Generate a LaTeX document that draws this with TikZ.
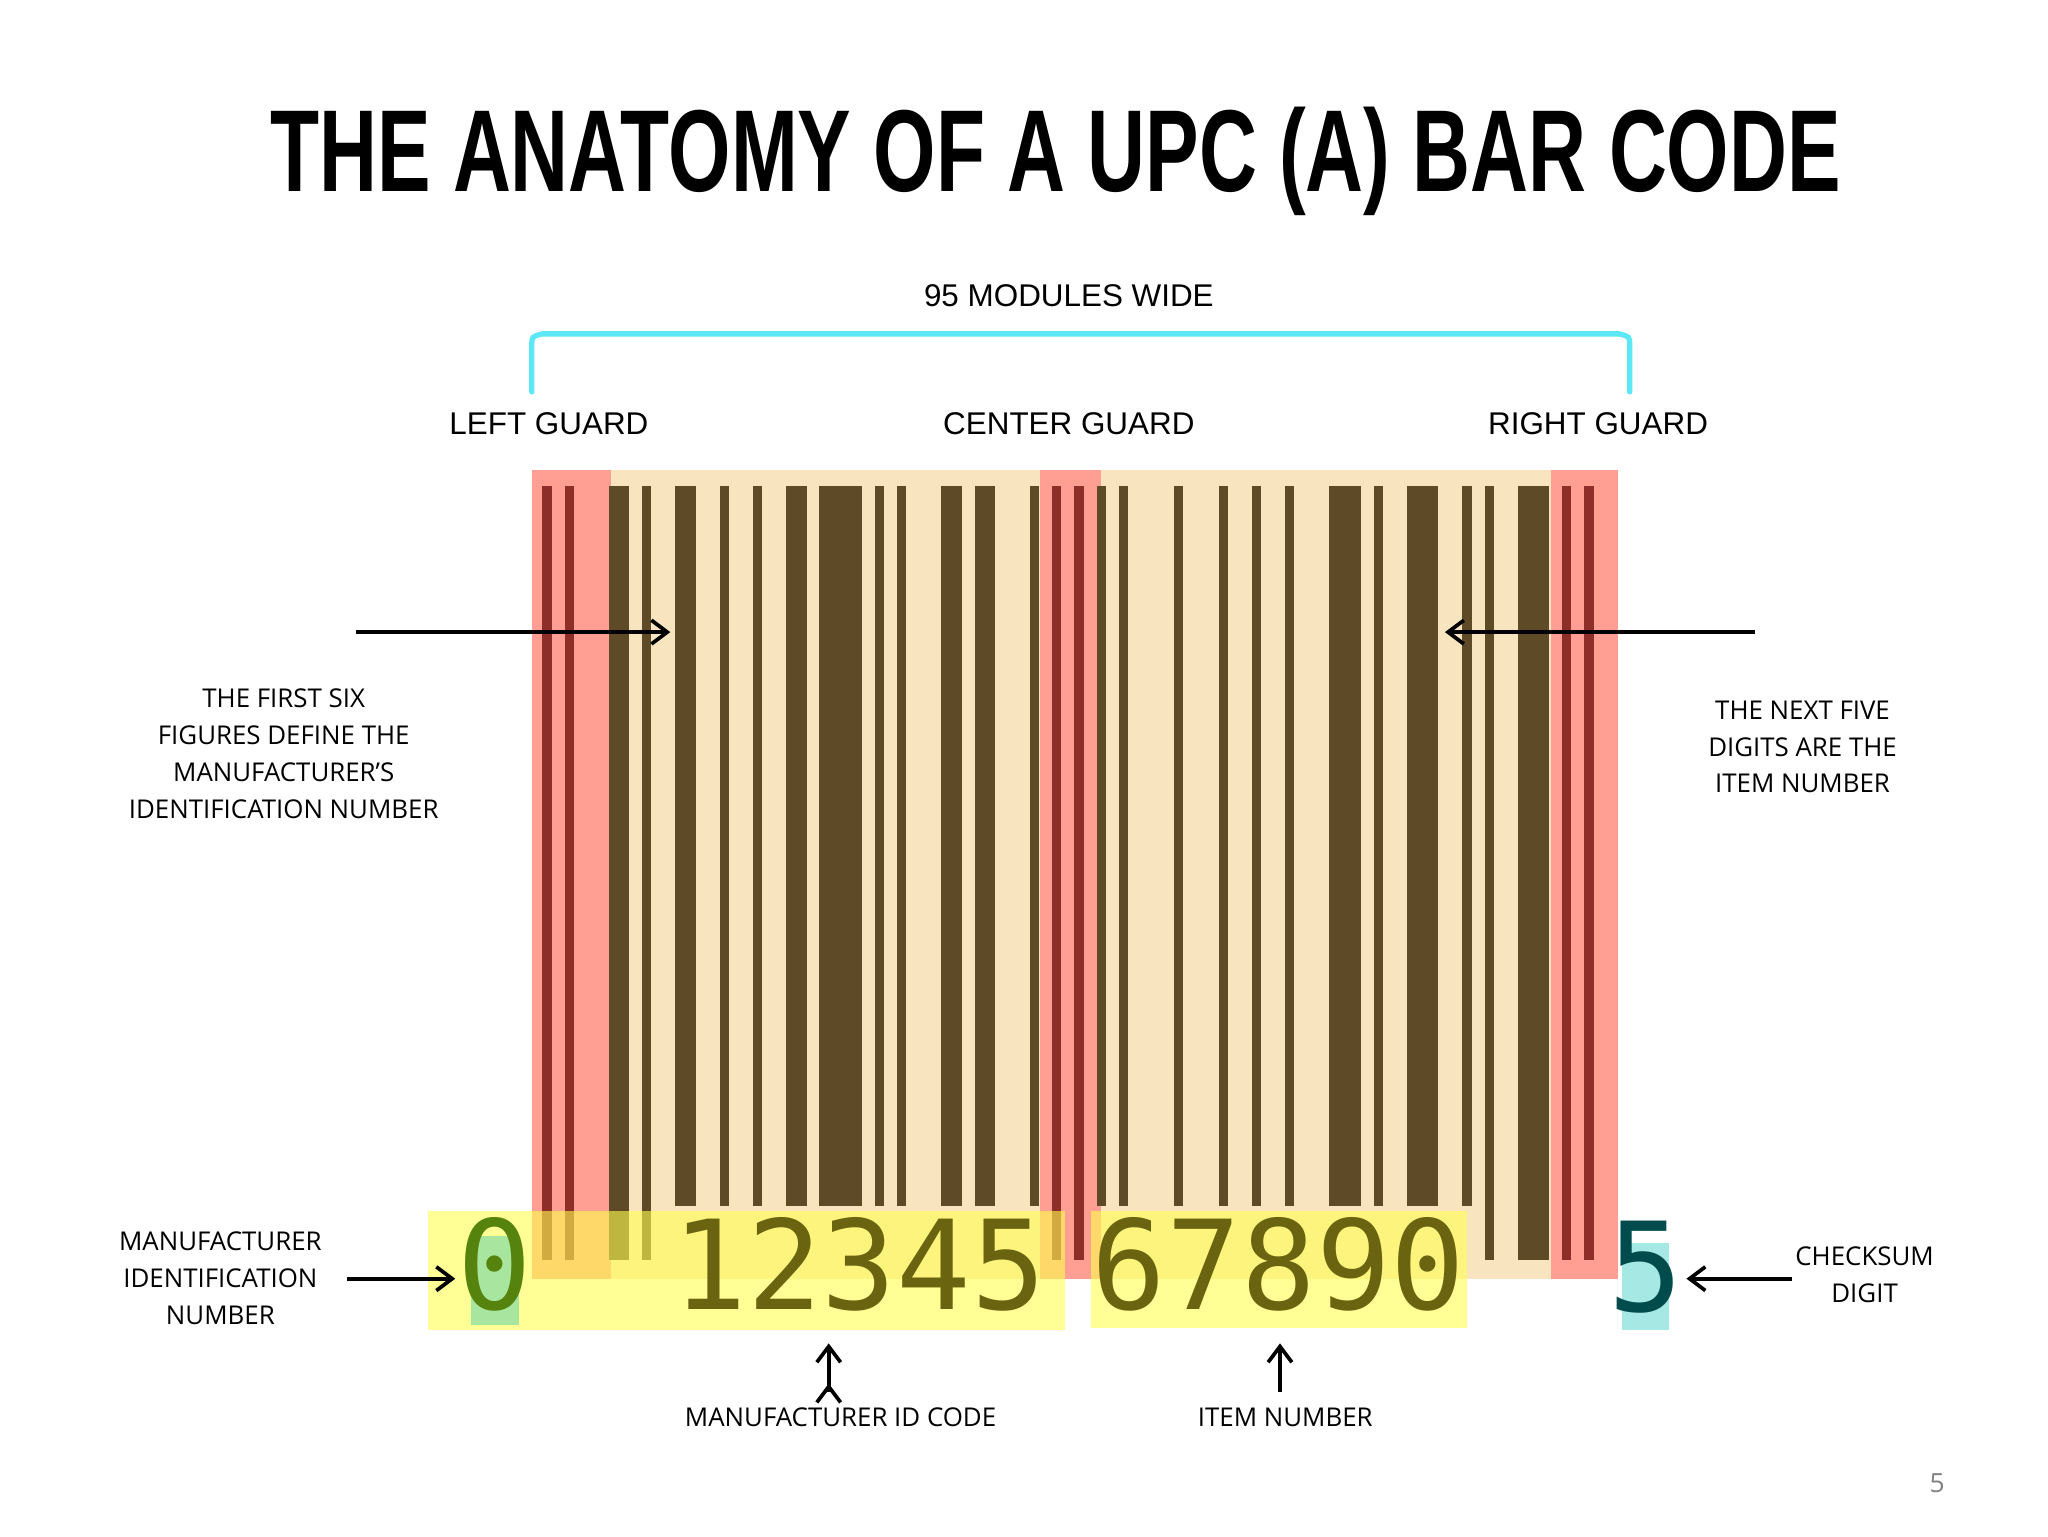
\documentclass[tikz,border=0pt]{standalone}
\usepackage{fontspec}
\setmainfont{Open Sans}
\newfontfamily\helv{Liberation Sans}
\newfontfamily\monodig{DejaVu Sans Mono}
\usetikzlibrary{arrows.meta}
\definecolor{bg}{HTML}{F9E4C0}
\definecolor{barc}{HTML}{5E4A26}
\definecolor{gbar}{HTML}{8E2E28}
\definecolor{pinkc}{HTML}{FF9E92}
\definecolor{yel}{HTML}{FFFF50}
\definecolor{grn}{HTML}{A8E6A0}
\definecolor{cya}{HTML}{A6E8E4}
\definecolor{brk}{HTML}{5CE8F6}
\definecolor{dig}{HTML}{6A6410}
\tikzset{
  lbl/.style={font=\fontsize{9.8pt}{14pt}\selectfont, align=center, inner sep=0pt},
  glbl/.style={font=\helv\fontsize{11.9pt}{14pt}\selectfont, inner sep=0pt},
  arr/.style={-{Straight Barb[length=6pt,width=9pt,line width=1.4pt]}, line width=1.5pt},
  digit/.style={font=\monodig\fontsize{47pt}{50pt}\selectfont, inner sep=0pt, anchor=base},
}
\begin{document}
\begin{tikzpicture}[x=0.5pt,y=-0.5pt]
\useasboundingbox (0,0) rectangle (1552,1164);
\node[inner sep=0pt] (title) at (800,122) {\resizebox{595pt}{32pt}{\helv\bfseries THE ANATOMY OF A UPC (A) BAR CODE}};
\node[glbl] (mod) at (810,224) {95 MODULES WIDE};
\draw[brk, line width=2pt, line cap=round] (403,297) -- (403,262) .. controls (403,255) .. (411,253) -- (1227,253) .. controls (1235,255) .. (1235,262) -- (1235,297);
\node[glbl] (lg) at (416,321) {LEFT GUARD};
\node[glbl] (cg) at (810,321) {CENTER GUARD};
\node[glbl] (rg) at (1211,321) {RIGHT GUARD};
% barcode
\fill[bg] (403,356) rectangle (1226,969);
\fill[pinkc] (403,356) rectangle (463,969);
\fill[pinkc] (788,356) rectangle (834,969);
\fill[pinkc] (1175,356) rectangle (1226,969);
% normal bars: start/length
\foreach \s/\l in {12/2,16/1,19/1,22/2,25/4,30/1,32/1,36/2,39/2,44/1,50/1,52/1,57/1,61/1,64/1,67/1,71/3,75/1,78/3,83/1}
  \fill[barc] ({411+\s*8.4},368) rectangle ({411+(\s+\l)*8.4-1.4},914);
\foreach \s/\l in {6/2,9/1,85/1,88/3}
  \fill[barc] ({411+\s*8.4},368) rectangle ({411+(\s+\l)*8.4-1.4},955);
\foreach \s in {0,2,46,48,92,94}
  \fill[gbar] ({411+\s*8.4},368) rectangle ({411+(\s+1)*8.4-1.4},955);
% highlight boxes
\fill[yel, opacity=0.6] (324,918) rectangle (807,1008);
\fill[yel, opacity=0.6] (827,918) rectangle (1112,1006);
\fill[grn] (357,937) rectangle (393,1004);
\fill[cya] (1229,942) rectangle (1265,1008);
\node[digit, text=dig!80!green] (d0) at (375,992) {0};
\node[digit, text=dig] (dl) at (651,992) {12345};
\node[digit, text=dig] (dr) at (969,992) {67890};
\node[digit, text=teal!60!black] (d5) at (1247,994) {5};
% arrows and labels
\coordinate (a1s) at (270,479); \coordinate (a1e) at (508,479);
\coordinate (a2s) at (1330,479); \coordinate (a2e) at (1095,479);
\draw[arr] (a1s) -- (a1e);
\draw[arr] (a2s) -- (a2e);
\node[lbl] (tl) at (215,571) {THE FIRST SIX\\FIGURES DEFINE THE\\MANUFACTURER’S\\IDENTIFICATION NUMBER};
\node[lbl] (tr) at (1366,566) {THE NEXT FIVE\\DIGITS ARE THE\\ITEM NUMBER};
\node[lbl] (mi) at (167,969) {MANUFACTURER\\IDENTIFICATION\\NUMBER};
\node[lbl] (cs) at (1413,966) {CHECKSUM\\DIGIT};
\coordinate (b1s) at (263,969); \coordinate (b1e) at (345,969);
\coordinate (b2s) at (1358,969); \coordinate (b2e) at (1278,969);
\draw[arr] (b1s) -- (b1e);
\draw[arr] (b2s) -- (b2e);
\node[lbl] (mc) at (637,1074) {MANUFACTURER ID CODE};
\node[lbl] (it) at (974,1074) {ITEM NUMBER};
\draw[arr] (mc.north -| 628,0) ++(0,-18) coordinate (u1s);
\coordinate (u1a) at (628,1055); \coordinate (u1b) at (628,1018);
\coordinate (u2a) at (970,1055); \coordinate (u2b) at (970,1018);
\draw[arr] (u1a) -- (u1b);
\draw[arr] (u2a) -- (u2b);
\node[font=\fontsize{10pt}{12pt}\selectfont, text=gray, inner sep=0pt] (pg) at (1468,1124) {5};
\end{tikzpicture}
\end{document}
